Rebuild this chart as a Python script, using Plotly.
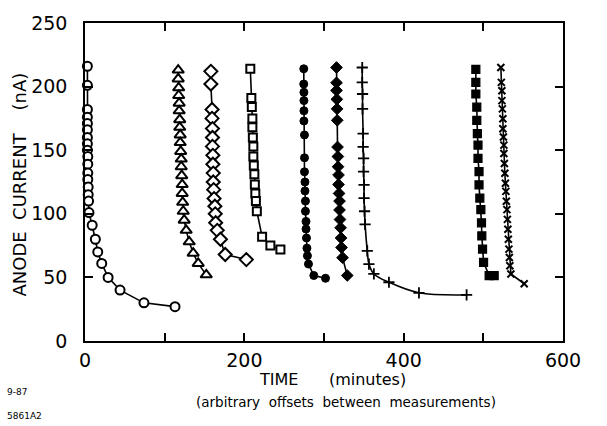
import plotly.graph_objects as go

# ---- data (time in minutes, anode current in nA) ----
open_circle_t = [3, 3, 3, 3, 3, 3, 3, 3, 3, 3.5, 3.5, 3.5, 3.5, 4, 4, 4.5, 5, 9, 13, 16, 21, 29, 44, 74, 113]
open_circle_i = [216, 201, 182, 176, 171, 166, 160, 155, 150, 145, 139, 132, 127, 121, 115, 110, 101, 91, 80, 70, 61, 50, 40, 30, 27]

triangle_t = [117.0, 117.0, 117.6, 117.6, 118.2, 118.2, 118.9, 118.9, 119.5, 119.5, 120.1, 120.8,
              120.8, 121.4, 122.0, 122.0, 122.6, 123.3, 124.5, 127.0, 130.8, 135.8, 142.1, 152.2]
triangle_i = [213, 206, 199, 193, 187, 181, 174, 168, 162, 156, 149, 143,
              137, 130, 123, 116, 109, 102, 95, 87, 78, 69, 61, 52]

diamond_t = [158, 158, 159.5, 159.5, 160, 160, 160, 160.5, 160.5, 161, 161, 161.5, 162, 163, 163.5, 164, 166, 170, 176, 202.5]
diamond_i = [212, 202, 182, 175, 167, 160, 153, 146, 139, 132, 125, 119, 112, 106, 100, 93, 87, 80, 68, 64]

square_t = [207.5, 208.8, 209.4, 210.1, 210.1, 210.7, 211.3, 211.3, 211.9, 212.6, 213.2, 213.8, 214.5, 215.7, 222.3, 232.7, 245.3]
square_i = [214, 191, 184, 175, 168, 160, 153, 145, 138, 131, 123, 116, 110, 102, 82, 75, 72]

dot_t = [274.6, 274.6, 274.8, 274.8, 274.8, 274.8, 275.5, 275.5, 275.5, 276.1, 276.1, 276.7, 276.7,
         277.4, 277.4, 278.0, 278.6, 279.2, 280.5, 287.2, 301.9]
dot_i = [214, 202, 195.5, 189, 181, 173, 162, 144, 133, 125, 118, 110, 102,
         94, 88, 81, 73, 67, 60.5, 51.5, 49.3]

fdiamond_t = [315.7, 315.7, 315.7, 316.1, 316.4, 316.6, 317.0, 317.4, 317.6, 318.2, 318.2, 318.9, 319.5,
              319.5, 320.1, 320.8, 321.4, 322.0, 323.3, 329.2]
fdiamond_i = [215, 203, 197, 190, 182.5, 173.5, 152.5, 145, 137, 130.5, 123, 116, 110,
              103, 95.5, 89, 81, 73.5, 65.5, 51.5]

plus_t = [348.0, 348.0, 348.4, 348.4, 349.1, 349.1, 349.7, 349.7, 350.3, 350.3, 350.9, 351.6,
          354.3, 356.4, 362.6, 381.5, 419.2, 479.0]
plus_i = [215, 203.3, 194.2, 182.5, 163, 152.6, 143.5, 133.2, 122.8, 112.4, 102, 91.7,
          70.9, 60.5, 52.7, 46.2, 37.9, 36.2]

fsquare_t = [490.6, 490.6, 490.6, 491.8, 491.8, 492.5, 493.3, 493.3, 494.6, 494.6, 495.6, 496.9,
             497.7, 498.1, 499.0, 500.3, 507.3, 513.6]
fsquare_i = [213.6, 203.3, 194.2, 183.8, 173.4, 163, 154, 143.5, 133.2, 122.8, 112.4, 103.3,
             92.9, 82.6, 72.2, 61.8, 51.4, 51.4]

cross_t = [522.0, 522.6, 523.3, 523.3, 523.9, 524.5, 524.5, 525.2, 525.8, 525.8, 526.4, 527.0,
           527.7, 528.3, 528.9, 529.6, 530.2, 530.8, 531.4, 532.1, 532.7, 533.3, 534.6, 551.3]
cross_i = [215, 203.3, 196.8, 189, 182.5, 174.7, 166.9, 160.4, 154, 147.4, 139.6, 131.9,
           124, 117.6, 109.8, 103.3, 95.6, 87.8, 80, 72.2, 65.7, 59.2, 52.7, 45]

x_tickvals = [0, 100, 200, 300, 400, 500, 600]
x_ticktext = ["0", "", "200", "", "400", "", "600"]
y_tickvals = [0, 50, 100, 150, 200, 250]

# (t, i, symbol, size, fill colour, outline width, line shape)
series = [
    (open_circle_t, open_circle_i, "circle", 9, "white", 2.0, "linear"),
    (triangle_t, triangle_i, "triangle-up", 10, "white", 2.0, "linear"),
    (diamond_t, diamond_i, "diamond", 10, "white", 2.0, "linear"),
    (square_t, square_i, "square", 8, "white", 2.0, "linear"),
    (dot_t, dot_i, "circle", 8, "black", 1.0, "linear"),
    (fdiamond_t, fdiamond_i, "diamond", 9, "black", 1.0, "linear"),
    (plus_t, plus_i, "cross-thin", 8, "black", 1.8, "spline"),
    (fsquare_t, fsquare_i, "square", 8, "black", 1.2, "linear"),
    (cross_t, cross_i, "x-thin", 7, "black", 2.0, "linear"),
]

fig = go.Figure()
for t, i, sym, size, fill, lw, shape in series:
    fig.add_trace(go.Scatter(
        x=t, y=i, mode="lines+markers",
        line=dict(color="black", width=1.6, shape=shape),
        marker=dict(symbol=sym, size=size, color=fill,
                    line=dict(color="black", width=lw)),
        cliponaxis=False, showlegend=False,
    ))

font_family = "DejaVu Sans"


def note(text, x, y, size, angle=0, xanchor="center"):
    return dict(text=text, xref="paper", yref="paper", x=x, y=y,
                xanchor=xanchor, yanchor="middle", textangle=angle,
                showarrow=False, font=dict(size=size, family=font_family, color="black"))


fig.update_layout(
    width=607, height=426,
    margin=dict(l=85, r=44, t=20, b=85),
    paper_bgcolor="white", plot_bgcolor="white",
    font=dict(family=font_family, color="black"),
    xaxis=dict(range=[0, 600], tickvals=x_tickvals, ticktext=x_ticktext,
               ticks="inside", ticklen=8, tickwidth=1.5, tickcolor="black",
               showline=True, linecolor="black", linewidth=1.5, mirror="ticks",
               showgrid=False, zeroline=False, tickfont=dict(size=19),
               ticklabelstandoff=1),
    yaxis=dict(range=[0, 250], tickvals=y_tickvals,
               ticks="inside", ticklen=8, tickwidth=1.5, tickcolor="black",
               showline=True, linecolor="black", linewidth=1.5, mirror="ticks",
               showgrid=False, zeroline=False, tickfont=dict(size=19),
               ticklabelstandoff=12),
    annotations=[
        note("ANODE  CURRENT    (nA)", -0.136, 0.492, 18, angle=-90),
        note("TIME      (minutes)", 0.517, -0.1215, 16),
        note("(arbitrary  offsets  between  measurements)", 0.546, -0.193, 13.5),
        note("9-87", -0.167, -0.159, 9, xanchor="left"),
        note("5861A2", -0.167, -0.237, 9, xanchor="left"),
    ],
)

fig.write_html("out.html")
